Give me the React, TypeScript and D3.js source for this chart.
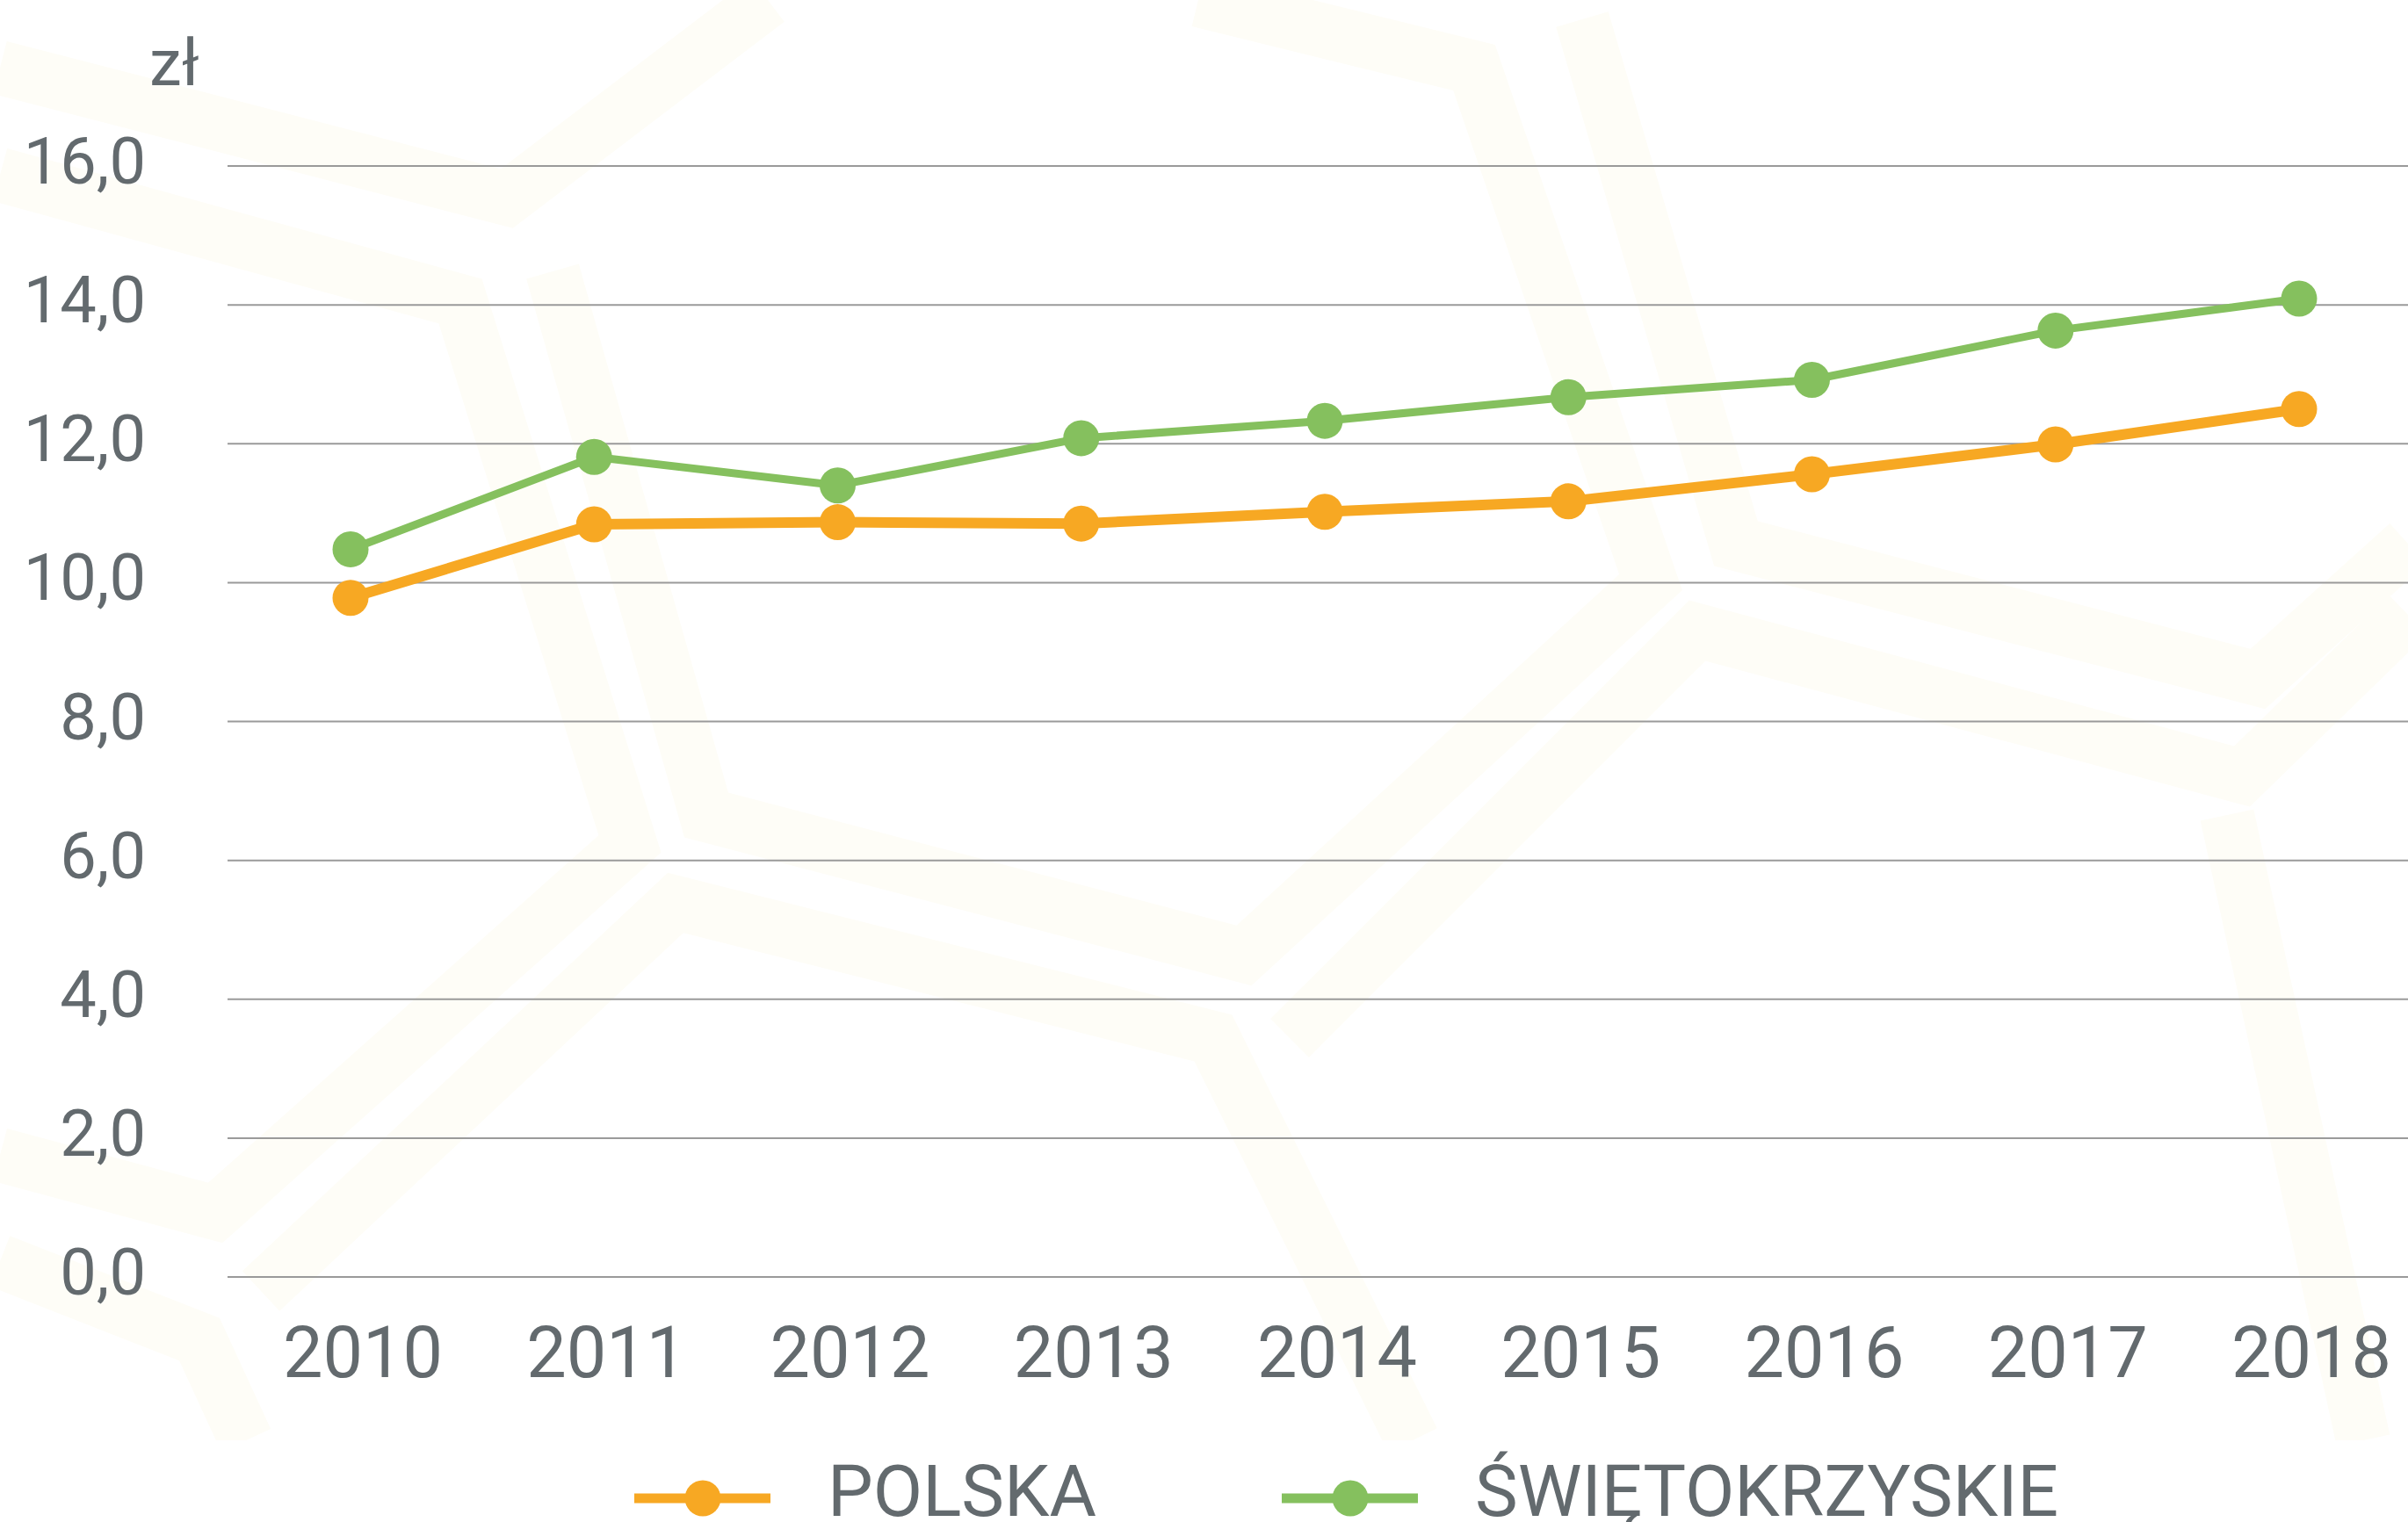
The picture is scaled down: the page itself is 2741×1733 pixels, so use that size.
import * as d3 from "d3";
import { useEffect, useRef } from "react";

const years = ["2010", "2011", "2012", "2013", "2014", "2015", "2016", "2017", "2018"];
const polska = [9.78, 10.84, 10.87, 10.85, 11.02, 11.17, 11.56, 11.99, 12.5];
const swietokrzyskie = [10.48, 11.81, 11.4, 12.08, 12.33, 12.67, 12.92, 13.63, 14.09];
const yTicks = [0, 2, 4, 6, 8, 10, 12, 14, 16];
const seriesNames = ["POLSKA", "ŚWIĘTOKRZYSKIE"];

// faint hexagon pattern in the background
const bgBands: [number, number][][] = [
    [[0, 77], [577, 226], [874, 0]],
    [[0, 199], [524, 343], [717, 961], [245, 1381], [0, 1315]],
    [[629, 309], [804, 928], [1416, 1088], [1879, 663], [1678, 77], [1364, 0]],
    [[1801, 22], [1976, 619], [2570, 773], [2741, 619]],
    [[297, 1470], [769, 1028], [1381, 1182], [1608, 1640]],
    [[1468, 1182], [1932, 718], [2552, 884], [2741, 700]],
    [[0, 1436], [227, 1525], [280, 1640]],
    [[2535, 928], [2690, 1640]],
];

const W = 2741;
const H = 1733;
const textColor = "#636a6e";
const font = "Roboto, 'Open Sans', sans-serif";
const colors = ["#f7a823", "#85c05e"];

const App = () => {
    const ref = useRef<SVGSVGElement>(null);

    useEffect(() => {
        const svg = d3.select(ref.current);
        svg.selectAll("*").remove();

        const x = d3.scalePoint().domain(years).range([399, 2617]);
        const y = d3.scaleLinear().domain([0, 16]).range([1454, 189]);

        svg.append("rect").attr("width", W).attr("height", H).attr("fill", "#fff");

        svg.append("clipPath").attr("id", "bgclip")
            .append("rect").attr("width", W).attr("height", 1640);

        svg.append("g").attr("clip-path", "url(#bgclip)")
            .selectAll("path")
            .data(bgBands)
            .join("path")
            .attr("d", (d) => d3.line()(d))
            .attr("fill", "none")
            .attr("stroke", "#fefdf7")
            .attr("stroke-width", 62);

        // grid
        svg.append("g")
            .selectAll("line")
            .data(yTicks)
            .join("line")
            .attr("x1", 259)
            .attr("x2", W)
            .attr("y1", (d) => y(d))
            .attr("y2", (d) => y(d))
            .attr("stroke", "#9a9a9a")
            .attr("stroke-width", 2);

        svg.append("g")
            .selectAll("text")
            .data(yTicks)
            .join("text")
            .attr("x", 166)
            .attr("y", (d) => y(d) + 20)
            .attr("text-anchor", "end")
            .attr("font-family", font)
            .attr("font-size", 74)
            .attr("fill", textColor)
            .text((d) => d.toFixed(1).replace(".", ","));

        svg.append("text")
            .attr("x", 170)
            .attr("y", 97)
            .attr("font-family", font)
            .attr("font-size", 74)
            .attr("fill", textColor)
            .text("zł");

        svg.append("g")
            .selectAll("text")
            .data(years)
            .join("text")
            .attr("x", (d) => x(d)! + 14)
            .attr("y", 1568)
            .attr("text-anchor", "middle")
            .attr("font-family", font)
            .attr("font-size", 81)
            .attr("fill", textColor)
            .text((d) => d);

        const allSeries = [polska, swietokrzyskie];
        const widths = [12, 9];
        allSeries.forEach((vals, i) => {
            const line = d3.line<number>()
                .x((_, j) => x(years[j])!)
                .y((d) => y(d));
            svg.append("path")
                .attr("d", line(vals))
                .attr("fill", "none")
                .attr("stroke", colors[i])
                .attr("stroke-width", widths[i])
                .attr("stroke-linejoin", "round");
            svg.append("g")
                .selectAll("circle")
                .data(vals)
                .join("circle")
                .attr("cx", (_, j) => x(years[j])!)
                .attr("cy", (d) => y(d))
                .attr("r", 20.5)
                .attr("fill", colors[i]);
        });

        // legend
        const legendX = [722, 1459];
        const legend = svg.append("g")
            .selectAll("g")
            .data(seriesNames)
            .join("g")
            .attr("transform", (_, i) => `translate(${legendX[i]},1706)`);
        legend.append("line")
            .attr("x1", 0).attr("x2", 155)
            .attr("stroke", (_, i) => colors[i])
            .attr("stroke-width", 11);
        legend.append("circle")
            .attr("cx", 78).attr("r", 20.5)
            .attr("fill", (_, i) => colors[i]);
        legend.append("text")
            .attr("x", 220)
            .attr("y", 20)
            .attr("font-family", font)
            .attr("font-size", 82)
            .attr("fill", textColor)
            .text((d) => d);
    }, []);

    return (
        <svg ref={ref} width={W} height={H}
            style={{ position: "absolute", left: 0, top: 0, display: "block" }} />
    );
};

export default App;
